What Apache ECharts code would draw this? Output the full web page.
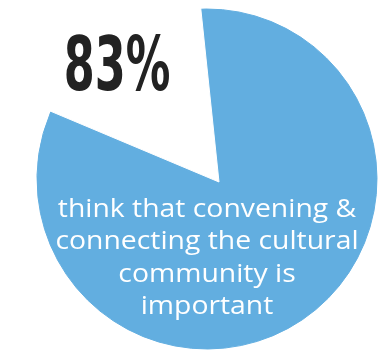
<!DOCTYPE html>
<html>
<head>
    <meta charset="utf-8">
    <title>index</title>
    <style>
        html, body { margin: 0; padding: 0; background: #fff; }
        #container { width: 390px; height: 350px; }
    </style>
</head>
<body>
    <div id="container"></div>
</body>
<script src="https://cdn.jsdelivr.net/npm/echarts@6/dist/echarts.min.js"></script>
<script type="text/javascript">
    // data
    var categories = ['think that convening & connecting the cultural community is important', 'others'];
    var values = [83, 17];
    var headline = '83%';
    var captionLines = ['think that convening &', 'connecting the cultural', 'community is', 'important'];

    var blue = '#62aee0';

    var dom = document.getElementById('container');
    var myChart = echarts.init(dom, null, { renderer: 'canvas' });

    // full disk (both slices blue), the white wedge is laid over it from its own apex
    var diskData = categories.map(function (name, i) {
        return {
            name: name,
            value: values[i],
            itemStyle: { color: blue, borderColor: blue, borderWidth: 1 }
        };
    });
    var wedgeData = categories.map(function (name, i) {
        return {
            name: name,
            value: values[i],
            itemStyle: i === 0
                ? { color: 'rgba(0,0,0,0)' }
                : { color: '#fff', borderColor: '#fff', borderWidth: 1 }
        };
    });

    var option = {
        animation: false,
        series: [
            {
                type: 'pie',
                silent: true,
                center: [207, 179],
                radius: 170,
                startAngle: 96,
                label: { show: false },
                labelLine: { show: false },
                data: diskData
            },
            {
                type: 'pie',
                silent: true,
                center: [219, 182],
                radius: 200,
                startAngle: 96,
                label: { show: false },
                labelLine: { show: false },
                data: wedgeData
            }
        ],
        graphic: [
            {
                type: 'text',
                x: 117,
                y: 71,
                scaleX: 0.66,
                z: 100,
                style: {
                    text: headline,
                    x: 0,
                    y: 0,
                    textAlign: 'center',
                    textVerticalAlign: 'middle',
                    font: 'bold 75px "Liberation Sans Narrow", "DejaVu Sans Condensed", sans-serif',
                    fill: '#222'
                }
            },
            {
                type: 'text',
                x: 207,
                y: 258,
                scaleX: 1.09,
                z: 100,
                style: {
                    text: captionLines.join('\n'),
                    x: 0,
                    y: 0,
                    textAlign: 'center',
                    textVerticalAlign: 'middle',
                    lineHeight: 32.5,
                    font: '26px "Open Sans", sans-serif',
                    fill: '#fff'
                }
            }
        ]
    };

    myChart.setOption(option, true);
</script>
</html>
